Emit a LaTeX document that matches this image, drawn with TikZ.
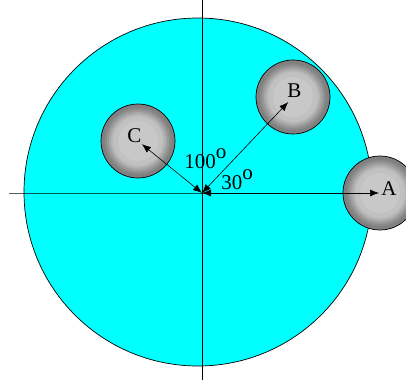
\documentclass[tikz,border=0pt]{standalone}
\usepackage{fontspec}
\setmainfont{Liberation Serif}
\usetikzlibrary{arrows.meta}
\definecolor{disccyan}{RGB}{0,255,255}
\definecolor{beaddark}{RGB}{128,128,128}
\definecolor{beadlight}{RGB}{200,200,200}
\newcommand{\dego}{\raisebox{0.45em}{o}}
\begin{document}
\begin{tikzpicture}[x=1pt, y=-1pt, line width=0.7pt,
  bead/.style={draw, circle, minimum size=74pt, inner sep=0pt, fill=beaddark},
  lbl/.style={font=\fontsize{21}{23}\selectfont, inner sep=0pt, anchor=base west},
  rad/.style={{Latex[length=9pt,width=7pt]}-{Latex[length=9pt,width=7pt]}, line width=0.6pt}]
  \clip (0,0) rectangle (406,380);
  \draw[fill=disccyan] (198,192) circle (174);
  % axes
  \coordinate (O) at (202,193); \coordinate (W) at (9,193);
  \coordinate (N) at (202,0); \coordinate (S) at (202,380);
  \draw (W) -- (O) -- (345,193); \draw (N) -- (S);
  % beads
  \node[bead] (A) at (380,193) {};
  \node[bead] (B) at (293,97) {};
  \node[bead] (C) at (138,141) {};
  \foreach \b in {A,B,C}
    \foreach \r/\k in {33/15, 31/35, 29/55, 27/75, 25/90, 20/100}
      \fill[beadlight!\k!beaddark] (\b) circle (\r);
  \draw[rad, shorten >=1pt] (O) -- (A.center);
  \draw[rad, shorten >=7pt] (O) -- (B.center);
  \draw[rad, shorten >=5pt] (O) -- (C.center);
  \node[lbl] (lA) at (381,195) {A};
  \node[lbl] (lB) at (287,97) {B};
  \node[lbl] (lC) at (127,142) {C};
  \node[lbl] (ang1) at (184,168) {100\dego};
  \node[lbl] (ang2) at (221,189) {30\dego};
\end{tikzpicture}
\end{document}
